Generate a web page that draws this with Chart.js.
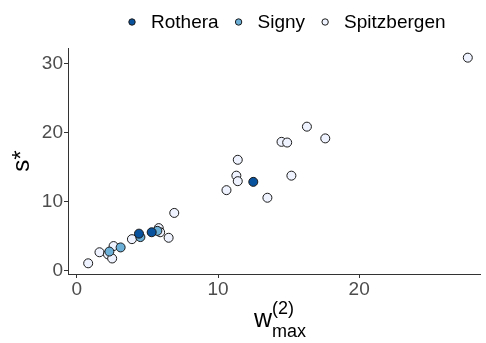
<!DOCTYPE html>
<html>
<head>
<meta charset="utf-8">
<script src="https://cdn.jsdelivr.net/npm/chart.js@4"></script>
<style>
  body { margin: 0; background: #fff; }
  #wrap { width: 486px; height: 343px; }
</style>
</head>
<body>
<div id="wrap"><canvas id="chart"></canvas></div>
<script>
// --- Data ---
const seriesNames = ['Rothera', 'Signy', 'Spitzbergen'];
const seriesColors = ['#08519c', '#6baed6', '#eff3ff'];

const rotheraX = [4.4, 5.3, 12.5];
const rotheraY = [5.4, 5.6, 12.9];

const signyX = [2.3, 3.1, 4.5, 5.7];
const signyY = [2.8, 3.4, 4.9, 5.8];

const spitzX = [0.8, 1.6, 2.2, 2.5, 2.6, 3.9, 5.8, 5.9, 6.5, 6.9, 10.6, 11.3, 11.4, 11.4, 13.5, 14.5, 14.9, 15.2, 16.3, 17.6, 27.7];
const spitzY = [1.1, 2.7, 2.4, 1.8, 3.6, 4.6, 6.2, 5.6, 4.8, 8.4, 11.7, 13.8, 13.0, 16.1, 10.6, 18.7, 18.6, 13.8, 20.9, 19.2, 30.9];

const xTicks = [0, 10, 20];
const yTicks = [0, 10, 20, 30];

const FONT = '"Liberation Sans", Arial, sans-serif';

function toPoints(xs, ys) {
    return xs.map((x, i) => ({ x: x, y: ys[i] }));
}

const seriesData = [
    toPoints(rotheraX, rotheraY),
    toPoints(signyX, signyY),
    toPoints(spitzX, spitzY)
];

// legend + axis titles drawn by hand (ggplot-like look)
const decorations = {
    id: 'decorations',
    afterDraw(chart) {
        const ctx = chart.ctx;
        ctx.save();

        // legend
        ctx.font = '19px ' + FONT;
        ctx.textBaseline = 'middle';
        ctx.textAlign = 'left';
        let x = 132;
        const y = 22;
        seriesNames.forEach((name, i) => {
            ctx.beginPath();
            ctx.arc(x, y, 3.2, 0, Math.PI * 2);
            ctx.fillStyle = seriesColors[i];
            ctx.fill();
            ctx.lineWidth = 1;
            ctx.strokeStyle = '#1a1a1a';
            ctx.stroke();
            ctx.fillStyle = '#000';
            ctx.fillText(name, x + 19, y + 1);
            x += 19 + ctx.measureText(name).width + 20;
        });

        // y title: s*
        ctx.save();
        ctx.translate(29, 161);
        ctx.rotate(-Math.PI / 2);
        ctx.font = '24px ' + FONT;
        ctx.textAlign = 'center';
        ctx.textBaseline = 'alphabetic';
        ctx.fillStyle = '#000';
        ctx.fillText('s*', 0, 0);
        ctx.restore();

        // x title: w_max^(2)
        ctx.textBaseline = 'alphabetic';
        ctx.textAlign = 'left';
        ctx.fillStyle = '#000';
        ctx.font = '25px ' + FONT;
        const wW = ctx.measureText('w').width;
        ctx.font = '18px ' + FONT;
        const supW = ctx.measureText('(2)').width;
        const subW = ctx.measureText('max').width;
        const total = wW + Math.max(supW, subW);
        const left = 280 - total / 2;
        ctx.font = '25px ' + FONT;
        ctx.fillText('w', left, 327);
        ctx.font = '18px ' + FONT;
        ctx.fillText('(2)', left + wW, 314);
        ctx.fillText('max', left + wW, 337);

        ctx.restore();
    }
};

const ctx = document.getElementById('chart').getContext('2d');
new Chart(ctx, {
    type: 'scatter',
    data: {
        datasets: seriesNames.map((name, i) => ({
            label: name,
            data: seriesData[i],
            backgroundColor: seriesColors[i],
            borderColor: '#1a1a1a',
            borderWidth: 1,
            pointRadius: 4.5,
            pointHoverRadius: 4.5
        }))
    },
    options: {
        responsive: true,
        maintainAspectRatio: false,
        animation: false,
        layout: { padding: { top: 48, left: 0, right: 0, bottom: 0 } },
        plugins: {
            legend: { display: false },
            tooltip: { enabled: false }
        },
        scales: {
            x: {
                type: 'linear',
                min: -0.63,
                max: 28.6,
                afterBuildTicks: s => { s.ticks = xTicks.map(v => ({ value: v })); },
                afterFit: s => { s.height = 69; },
                grid: { drawOnChartArea: false, drawTicks: true, tickLength: 4, color: '#333' },
                border: { display: true, color: '#333', width: 1 },
                ticks: { color: '#4d4d4d', font: { family: FONT, size: 19 }, padding: 0 }
            },
            y: {
                type: 'linear',
                min: -0.45,
                max: 32.3,
                afterBuildTicks: s => { s.ticks = yTicks.map(v => ({ value: v })); },
                afterFit: s => { s.width = 68; },
                grid: { drawOnChartArea: false, drawTicks: true, tickLength: 4, color: '#333' },
                border: { display: true, color: '#333', width: 1 },
                ticks: { color: '#4d4d4d', font: { family: FONT, size: 19 }, padding: 1 }
            }
        }
    },
    plugins: [decorations]
});
</script>
</body>
</html>
